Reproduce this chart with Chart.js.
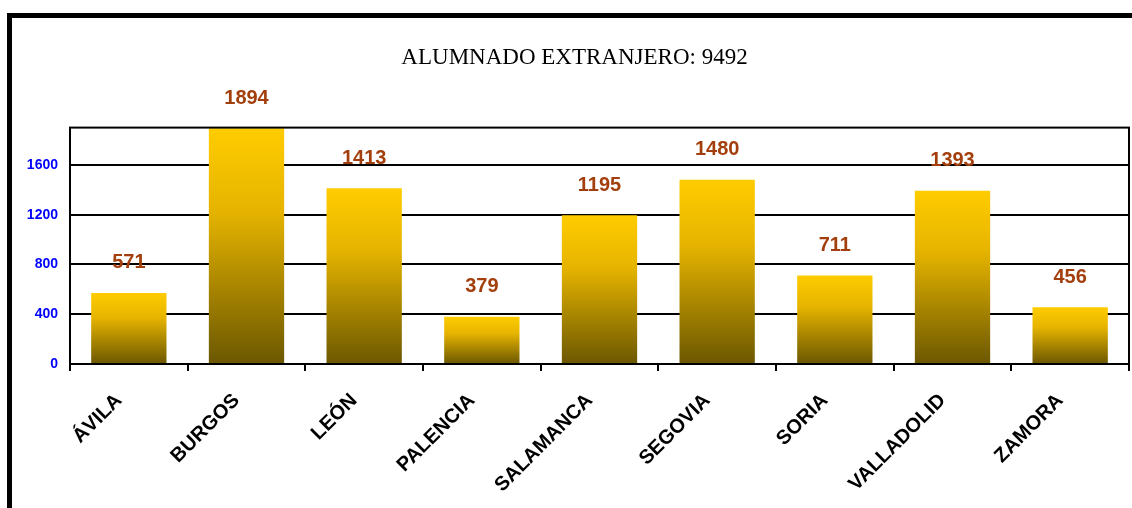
<!DOCTYPE html>
<html>
<head>
<meta charset="utf-8">
<script src="https://cdn.jsdelivr.net/npm/chart.js@4"></script>
<style>
  body { margin: 0; background: #fff; }
  #wrap { width: 1132px; height: 508px; }
</style>
</head>
<body>
<div id="wrap"><canvas id="myChart" width="1132" height="508"></canvas></div>
<script>
var provincias = ['ÁVILA', 'BURGOS', 'LEÓN', 'PALENCIA', 'SALAMANCA', 'SEGOVIA', 'SORIA', 'VALLADOLID', 'ZAMORA'];
var alumnos = [571, 1894, 1413, 379, 1195, 1480, 711, 1393, 456];
var yTicks = [0, 400, 800, 1200, 1600];
var yMax = 1900;
var titulo = 'ALUMNADO EXTRANJERO: 9492';

// degradado amarillo -> oliva por cada barra
var barColor = function(c) {
    var chart = c.chart;
    if (!chart.chartArea || c.dataIndex === undefined) return '#e6b800';
    var y = chart.scales.y;
    var top = y.getPixelForValue(alumnos[c.dataIndex]);
    var bottom = y.getPixelForValue(0);
    var g = chart.ctx.createLinearGradient(0, top, 0, bottom);
    g.addColorStop(0, '#ffcc00');
    g.addColorStop(0.35, '#e6b400');
    g.addColorStop(1, '#6b5700');
    return g;
};

// marco negro + borde del area de grafico
var frame = {
    id: 'frame',
    beforeDraw: function(chart) {
        var ctx = chart.ctx;
        ctx.save();
        ctx.fillStyle = '#000';
        ctx.fillRect(7, 13, 5, 508);
        ctx.fillRect(7, 13, 1132, 5);
        ctx.restore();
    },
    afterDraw: function(chart) {
        var a = chart.chartArea;
        var ctx = chart.ctx;
        ctx.save();
        ctx.strokeStyle = '#000';
        ctx.lineWidth = 2;
        ctx.strokeRect(a.left, a.top, a.right - a.left, a.bottom - a.top);
        ctx.restore();
    }
};

// etiquetas de valor encima de las barras
var valores = {
    id: 'valores',
    afterDatasetsDraw: function(chart) {
        var ctx = chart.ctx;
        var meta = chart.getDatasetMeta(0);
        ctx.save();
        ctx.font = 'bold 20px "Liberation Sans", Arial, sans-serif';
        ctx.fillStyle = '#a33f0c';
        ctx.textAlign = 'center';
        ctx.textBaseline = 'middle';
        meta.data.forEach(function(bar, i) {
            ctx.fillText(alumnos[i], bar.x, bar.y - 30);
        });
        ctx.restore();
    }
};

var ctx = document.getElementById('myChart').getContext('2d');
var chart = new Chart(ctx, {
    type: 'bar',
    data: {
        labels: provincias,
        datasets: [{
            label: 'Alumnado',
            data: alumnos,
            backgroundColor: barColor,
            borderWidth: 0,
            categoryPercentage: 1,
            barPercentage: 0.64
        }]
    },
    plugins: [frame, valores],
    options: {
        responsive: false,
        animation: false,
        layout: { padding: { left: 20, right: 3, top: 0, bottom: 0 } },
        plugins: {
            legend: { display: false },
            tooltip: { enabled: false },
            title: {
                display: true,
                text: titulo,
                color: '#000',
                font: { family: '"Liberation Serif", "Times New Roman", serif', size: 23, weight: 'normal' },
                padding: { top: 44, bottom: 56 }
            }
        },
        scales: {
            x: {
                grid: { drawOnChartArea: false, drawTicks: true, tickLength: 7, color: '#000', lineWidth: 2 },
                border: { color: '#000', width: 2 },
                ticks: {
                    color: '#000',
                    font: { family: '"Liberation Sans", Arial, sans-serif', size: 20, weight: 'bold' },
                    minRotation: 45,
                    maxRotation: 45,
                    padding: 18,
                    labelOffset: -10
                },
                afterFit: function(s) { s.height = 144; }
            },
            y: {
                min: 0,
                max: yMax,
                afterBuildTicks: function(s) { s.ticks = yTicks.map(function(v) { return { value: v }; }); },
                grid: { color: '#000', lineWidth: 2, drawTicks: false },
                border: { color: '#000', width: 2 },
                ticks: {
                    color: '#0000ff',
                    padding: 12,
                    font: { family: '"Liberation Sans", Arial, sans-serif', size: 14, weight: 'bold' },
                    callback: function(v) { return String(v); }
                },
                afterFit: function(s) { s.width = 50; }
            }
        }
    }
});
</script>
</body>
</html>
